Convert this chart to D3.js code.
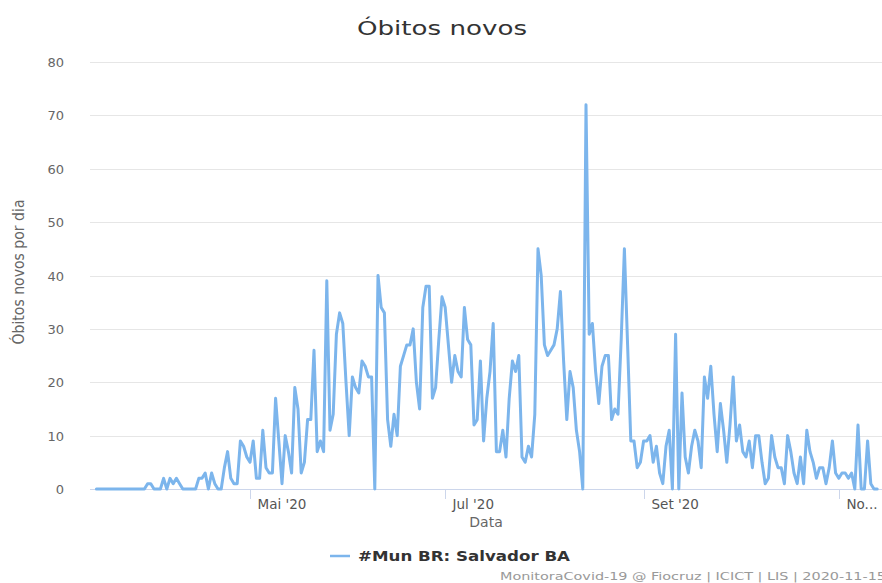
<!DOCTYPE html>
<html lang="pt">
<head>
<meta charset="UTF-8">
<title>Óbitos novos</title>
<script src="https://d3js.org/d3.v7.min.js"></script>
<style>
  body { margin: 0; background: #fff; }
  svg { display: block; font-family: "DejaVu Sans", sans-serif; }
</style>
</head>
<body>
<div id="chart"></div>
<script>
// daily new deaths, Salvador BA, from 2020-03-14
const startDate = Date.UTC(2020, 2, 14);
const obitosMar = [0,0,0,0,0,0,0,0,0,0,0,0,0,0,0,0,1,1];
const obitosAbr = [0,0,0,2,0,2,1,2,1,0, 0,0,0,0,2,2,3,0,3,1, 0,0,4,7,2,1,1,9,8,6];
const obitosMai = [5,9,2,2,11,4,3,3,17,9, 1,10,7,3,19,15,3,5,13,13, 26,7,9,7,39,11,14,29,33,31, 20];
const obitosJun = [10,21,19,18,24,23,21,21,0,40, 34,33,13,8,14,10,23,25,27,27, 30,20,15,34,38,38,17,19,28,36];
const obitosJul = [34,27,20,25,22,21,34,28,27,12, 13,24,9,17,22,31,7,7,11,6, 17,24,22,25,6,5,8,6,14,45, 40];
const obitosAgo = [27,25,26,27,30,37,24,13,22,19, 11,7,0,72,29,31,22,16,23,25, 25,13,15,14,28,45,27,9,9,4, 5];
const obitosSet = [9,9,10,5,8,3,1,8,11,0, 29,0,18,6,3,8,11,9,4,21, 17,23,14,7,16,11,5,12,21,9];
const obitosOut = [12,7,6,9,4,10,10,5,1,2, 10,6,4,4,1,10,7,3,1,6, 1,11,7,5,2,4,4,1,4,9, 3];
const obitosNov = [2,3,3,2,3,0,12,0,0,9,1,0,0];

const yTicks = [0, 10, 20, 30, 40, 50, 60, 70, 80];
const xTickLabels = ["Mai '20", "Jul '20", "Set '20", "No..."];
const seriesName = "#Mun BR: Salvador BA";

const values = [].concat(obitosMar, obitosAbr, obitosMai, obitosJun, obitosJul,
                         obitosAgo, obitosSet, obitosOut, obitosNov);
const data = values.map((v, i) => ({ date: d3.utcDay.offset(new Date(startDate), i), value: v }));

const width = 882, height = 583;
const plotLeft = 90, plotRight = 882, plotTop = 62, plotBottom = 489;

const svg = d3.select("#chart").append("svg")
    .attr("width", width)
    .attr("height", height);

const x = d3.scaleUtc()
    .domain(d3.extent(data, d => d.date))
    .range([96.4, 96.4 + (data.length - 1) * 3.2]);

const y = d3.scaleLinear()
    .domain([0, 80])
    .range([plotBottom, plotTop]);

// grid
svg.append("g")
    .selectAll("line")
    .data(yTicks)
    .join("line")
    .attr("x1", plotLeft).attr("x2", plotRight)
    .attr("y1", d => Math.round(y(d)) + 0.5)
    .attr("y2", d => Math.round(y(d)) + 0.5)
    .attr("stroke", "#e6e6e6");

// y labels
svg.append("g")
    .selectAll("text")
    .data(yTicks)
    .join("text")
    .attr("x", 64)
    .attr("y", d => y(d) + 5)
    .attr("text-anchor", "end")
    .attr("font-size", 13)
    .attr("fill", "#666")
    .text(d => d);

// x axis
const monthTicks = d3.utcMonth.every(2).range(x.domain()[0], x.domain()[1]);
svg.append("line")
    .attr("x1", plotLeft).attr("x2", plotRight)
    .attr("y1", plotBottom + 0.5).attr("y2", plotBottom + 0.5)
    .attr("stroke", "#ccd6eb");

const xt = svg.append("g")
    .selectAll("g")
    .data(monthTicks)
    .join("g")
    .attr("transform", d => `translate(${Math.round(x(d)) + 0.5},0)`);
xt.append("line")
    .attr("y1", plotBottom).attr("y2", plotBottom + 10)
    .attr("stroke", "#ccd6eb");
xt.append("text")
    .attr("x", 7)
    .attr("y", plotBottom + 20)
    .attr("font-size", 13.5)
    .attr("fill", "#555")
    .text((d, i) => xTickLabels[i]);

// the line
const line = d3.line()
    .x(d => x(d.date))
    .y(d => y(d.value));

svg.append("path")
    .datum(data)
    .attr("fill", "none")
    .attr("stroke", "#7cb5ec")
    .attr("stroke-width", 3)
    .attr("stroke-linejoin", "round")
    .attr("stroke-linecap", "round")
    .attr("d", line);

// titles
svg.append("text")
    .attr("x", 442).attr("y", 35)
    .attr("text-anchor", "middle")
    .attr("font-size", 20)
    .attr("fill", "#333")
    .attr("textLength", 170)
    .attr("lengthAdjust", "spacingAndGlyphs")
    .text("Óbitos novos");

svg.append("text")
    .attr("transform", "translate(24,272) rotate(-90)")
    .attr("text-anchor", "middle")
    .attr("font-size", 15)
    .attr("fill", "#666")
    .attr("textLength", 145)
    .attr("lengthAdjust", "spacingAndGlyphs")
    .text("Óbitos novos por dia");

svg.append("text")
    .attr("x", (plotLeft + plotRight) / 2).attr("y", 527)
    .attr("text-anchor", "middle")
    .attr("font-size", 14)
    .attr("fill", "#666")
    .text("Data");

// legend
const legend = svg.append("g").attr("transform", "translate(330,556)");
legend.append("line")
    .attr("x1", 0).attr("x2", 20)
    .attr("stroke", "#7cb5ec")
    .attr("stroke-width", 2.5);
legend.append("text")
    .attr("x", 28).attr("y", 5)
    .attr("font-size", 14)
    .attr("font-weight", "bold")
    .attr("fill", "#333")
    .attr("textLength", 212)
    .attr("lengthAdjust", "spacingAndGlyphs")
    .text(seriesName);

// credits
svg.append("text")
    .attr("x", 500).attr("y", 580)
    .attr("font-size", 11)
    .attr("fill", "#999")
    .attr("textLength", 386)
    .attr("lengthAdjust", "spacingAndGlyphs")
    .text("MonitoraCovid-19 @ Fiocruz | ICICT | LIS | 2020-11-15");
</script>
</body>
</html>
